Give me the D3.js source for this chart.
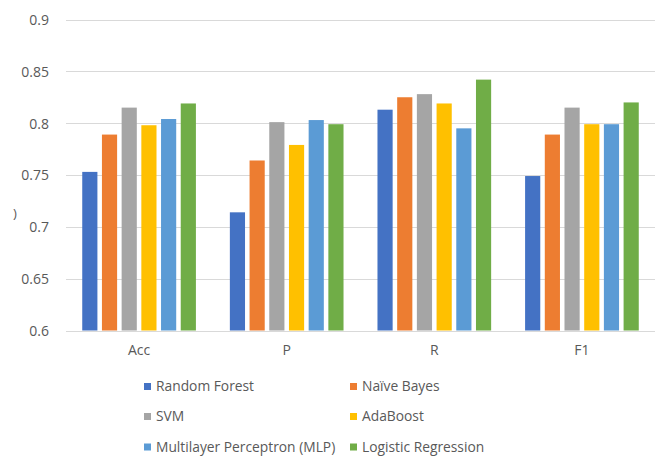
<!DOCTYPE html>
<html>
<head>
<meta charset="utf-8">
<script src="https://cdn.jsdelivr.net/npm/d3@7"></script>
<style>
  html, body { margin: 0; padding: 0; background: #fff; }
  svg text { font-family: "Open Sans", "Liberation Sans", sans-serif; fill: #595959; }
</style>
</head>
<body>
<svg id="chart" width="663" height="456"></svg>
<script>
// Metric groups along the x axis
const categories = ["Acc", "P", "R", "F1"];

// Classifier names (series)
const seriesNames = [
  "Random Forest",
  "Naïve Bayes",
  "SVM",
  "AdaBoost",
  "Multilayer Perceptron (MLP)",
  "Logistic Regression"
];

// Scores per classifier, ordered as categories
const randomForest = [0.753, 0.714, 0.813, 0.749];
const naiveBayes   = [0.789, 0.764, 0.825, 0.789];
const svm          = [0.815, 0.801, 0.828, 0.815];
const adaBoost     = [0.798, 0.779, 0.819, 0.799];
const mlp          = [0.804, 0.803, 0.795, 0.799];
const logistic     = [0.819, 0.799, 0.842, 0.820];

const seriesValues = [randomForest, naiveBayes, svm, adaBoost, mlp, logistic];
const seriesColors = ["#4472C4", "#ED7D31", "#A5A5A5", "#FFC000", "#5B9BD5", "#70AD47"];

const yTicks = [0.6, 0.65, 0.7, 0.75, 0.8, 0.85, 0.9];

const svg = d3.select("#chart");

const plot = { left: 66, right: 655, top: 19.5, bottom: 330.5 };

const y = d3.scaleLinear().domain([0.6, 0.9]).range([plot.bottom, plot.top]);

const x0 = d3.scaleBand()
  .domain(categories)
  .range([plot.left, plot.right])
  .paddingInner(0.23)
  .paddingOuter(0.11);

const x1 = d3.scaleBand()
  .domain(d3.range(seriesNames.length))
  .range([0, x0.bandwidth()])
  .paddingInner(0.23);

// Horizontal gridlines
svg.append("g")
  .selectAll("line")
  .data(yTicks)
  .join("line")
  .attr("x1", plot.left)
  .attr("x2", plot.right)
  .attr("y1", d => Math.round(y(d)) + 0.5)
  .attr("y2", d => Math.round(y(d)) + 0.5)
  .attr("stroke", "#D9D9D9")
  .attr("stroke-width", 1);

// Y axis labels
const yAxis = d3.axisLeft(y)
  .tickValues(yTicks)
  .tickFormat(d => String(+d.toFixed(2)))
  .tickSize(0)
  .tickPadding(0);

const yg = svg.append("g")
  .attr("transform", `translate(${49},0)`)
  .call(yAxis);
yg.select(".domain").remove();
yg.selectAll("text")
  .attr("font-size", 14)
  .attr("fill", "#595959")
  .attr("dy", "0.35em")
  .style("font-family", "'Open Sans', sans-serif");

// Clipped fragment of the axis title
svg.append("text")
  .attr("x", 13)
  .attr("y", 218)
  .attr("font-size", 13)
  .text(")");

// Bars
const groups = svg.append("g")
  .selectAll("g")
  .data(categories)
  .join("g")
  .attr("transform", d => `translate(${x0(d)},0)`);

groups.selectAll("rect")
  .data((c, ci) => seriesValues.map((vals, si) => ({ si, v: vals[ci] })))
  .join("rect")
  .attr("x", d => x1(d.si))
  .attr("width", x1.bandwidth())
  .attr("y", d => y(d.v))
  .attr("height", d => y(0.6) - y(d.v))
  .attr("fill", d => seriesColors[d.si]);

// Category labels
const xAxis = d3.axisBottom(x0).tickSize(0).tickPadding(0);
const xg = svg.append("g")
  .attr("transform", `translate(0,${345})`)
  .call(xAxis);
xg.select(".domain").remove();
xg.selectAll("text")
  .attr("font-size", 14)
  .attr("fill", "#595959")
  .attr("dy", "0.71em")
  .style("font-family", "'Open Sans', sans-serif");

// Legend: two columns, three rows
const legendCols = [144, 350];
const legendRows = [386.5, 416.5, 447];
const legend = svg.append("g")
  .selectAll("g")
  .data(seriesNames)
  .join("g")
  .attr("transform", (d, i) => `translate(${legendCols[i % 2]},${legendRows[Math.floor(i / 2)]})`);

legend.append("rect")
  .attr("x", 0)
  .attr("y", -3.5)
  .attr("width", 7)
  .attr("height", 7)
  .attr("fill", (d, i) => seriesColors[i]);

legend.append("text")
  .attr("x", 12)
  .attr("y", 0)
  .attr("dy", "0.35em")
  .attr("font-size", 13.8)
  .text(d => d);
</script>
</body>
</html>
